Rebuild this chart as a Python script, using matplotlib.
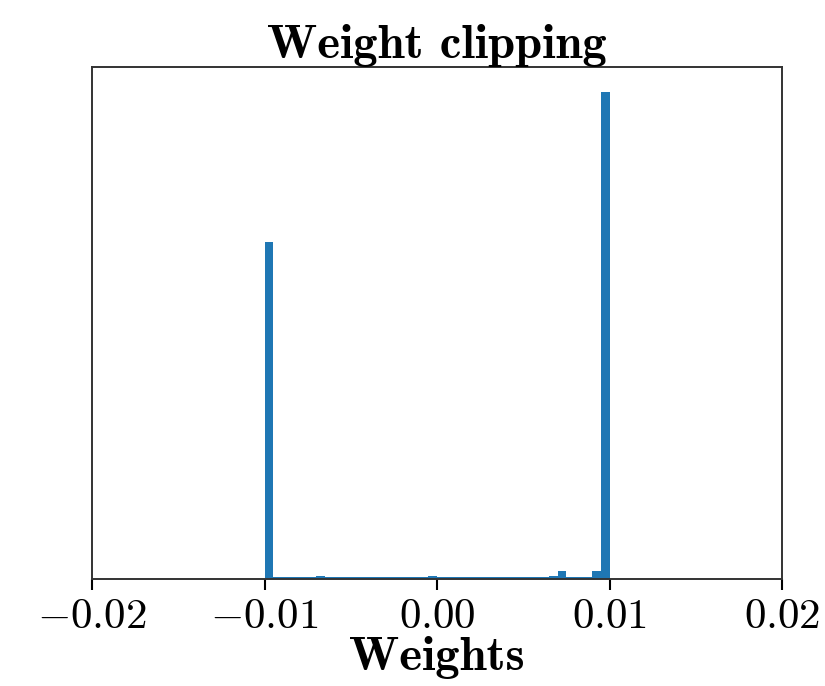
import numpy as np
import matplotlib
matplotlib.use("Agg")
import matplotlib.pyplot as plt

plt.rcParams["mathtext.fontset"] = "cm"
plt.rcParams["axes.formatter.use_mathtext"] = True
plt.rcParams["font.family"] = "cmr10"

# Histogram of clipped weights: 40 bins across [-0.01, 0.01]
bin_edges = np.linspace(-0.01, 0.01, 41)
counts = [337, 2, 2, 2, 2, 2, 3, 2, 2, 2,
          2, 2, 2, 2, 2, 2, 2, 2, 2, 3,
          2, 2, 2, 2, 2, 2, 2, 2, 2, 2,
          2, 2, 2, 3, 8, 2, 2, 2, 8, 488]
xticks = [-0.02, -0.01, 0.00, 0.01, 0.02]

fig = plt.figure(figsize=(8.25, 6.86), dpi=100)
ax = fig.add_axes([0.1115, 0.156, 0.8365, 0.746])

centers = (bin_edges[:-1] + bin_edges[1:]) / 2
ax.hist(centers, bins=bin_edges, weights=counts, color="#1f77b4")

ax.set_xlim(-0.02, 0.02)
ax.set_xticks(xticks)
ax.set_xticklabels([f"${t:.2f}$" for t in xticks])
ax.set_yticks([])
ax.tick_params(axis="x", labelsize=31, length=8, width=1.5, pad=6)
for s in ax.spines.values():
    s.set_linewidth(1.4)
    s.set_color("#333333")

ax.set_title("Weight clipping", fontfamily="cmb10", fontsize=35, pad=3)
ax.set_xlabel("Weights", fontfamily="cmb10", fontsize=35, labelpad=0)

fig.savefig("out.png", dpi=100)
